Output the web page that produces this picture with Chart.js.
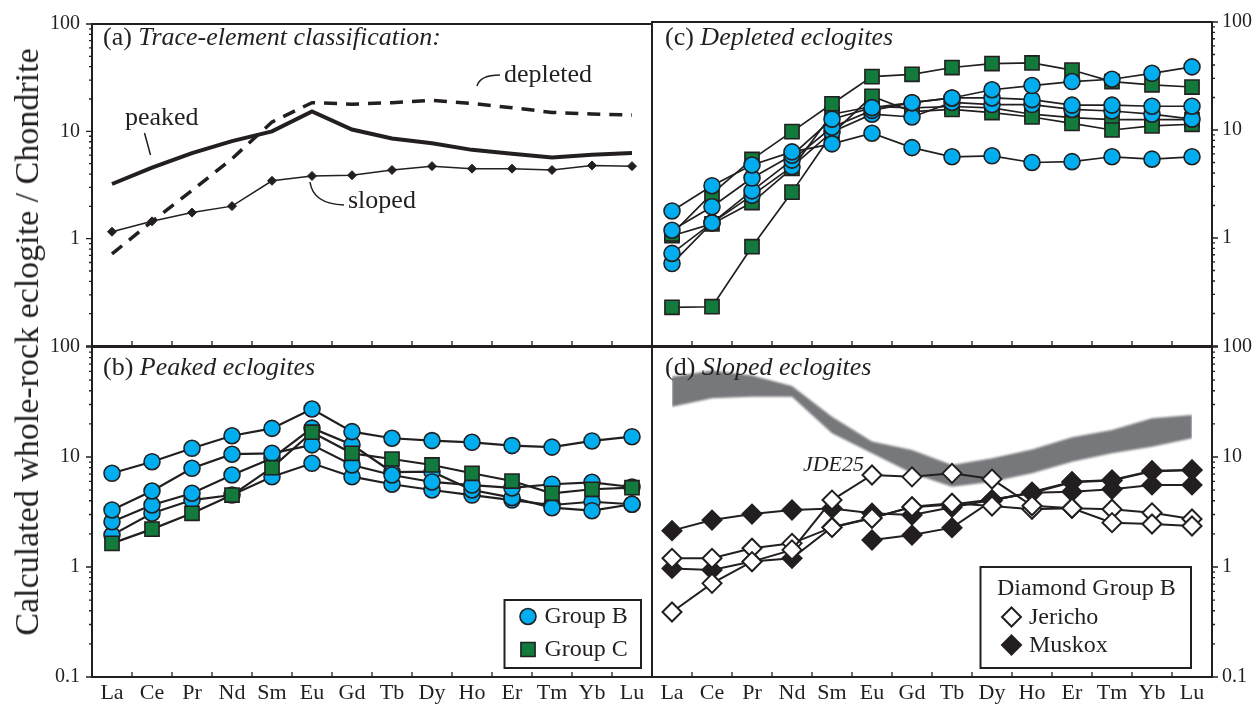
<!DOCTYPE html>
<html>
<head>
<meta charset="utf-8">
<script src="https://cdn.jsdelivr.net/npm/chart.js@4.4.1/dist/chart.umd.min.js"></script>
<style>
  html, body { margin: 0; padding: 0; background: #fff; }
  #wrap { position: relative; width: 1256px; height: 708px; overflow: hidden; background: #fff; }
  #wrap canvas { position: absolute; left: 0; top: 0; }
  #ytitle {
    position: absolute; left: 27px; top: 342px;
    transform: translate(-50%, -50%) rotate(-90deg);
    white-space: nowrap; color: #231f20;
    font: 34px 'Liberation Serif', 'Times New Roman', serif;
  }
</style>
</head>
<body>
<div id="wrap">
  <canvas id="panelA" width="1256" height="708"></canvas>
  <canvas id="panelB" width="1256" height="708"></canvas>
  <canvas id="panelC" width="1256" height="708"></canvas>
  <canvas id="panelD" width="1256" height="708"></canvas>
  <div id="ytitle">Calculated whole-rock eclogite / Chondrite</div>
</div>
<script>
// REE on the x axis, chondrite-normalised values on log y axes
const elements = ['La', 'Ce', 'Pr', 'Nd', 'Sm', 'Eu', 'Gd', 'Tb', 'Dy', 'Ho', 'Er', 'Tm', 'Yb', 'Lu'];
const decadeTicks = [0.1, 1, 10, 100];

// (a) classification patterns
const peakedPattern   = [3.23, 4.58, 6.27, 8.11, 10.0, 15.3, 10.4, 8.59, 7.73, 6.72, 6.18, 5.72, 6.05, 6.27];
const depletedPattern = [0.72, 1.45, 2.81, 5.56, 12.2, 18.5, 17.9, 18.5, 19.4, 18.2, 16.6, 15.0, 14.5, 14.2];
const slopedPattern   = [1.16, 1.45, 1.75, 2.01, 3.46, 3.84, 3.90, 4.36, 4.74, 4.49, 4.49, 4.36, 4.81, 4.74];

// (b) peaked eclogites
const peakedB1 = [7.11, 9.06, 12.0, 15.6, 18.2, 27.3, 17.0, 14.8, 14.1, 13.6, 12.7, 12.3, 14.0, 15.3];
const peakedB2 = [3.30, 4.91, 7.89, 10.6, 10.8, 12.9, 8.46, 6.86, 5.93, 5.56, 5.23, 5.65, 5.89, 5.34];
const peakedB3 = [2.58, 3.66, 4.68, 6.86, 9.73, 18.3, 12.9, 7.30, 7.35, 5.01, 4.27, 3.46, 3.25, 3.72];
const peakedB4 = [1.95, 3.08, 4.06, 4.51, 6.62, 8.76, 6.62, 5.65, 5.01, 4.51, 4.06, 3.66, 3.92, 3.72];
const peakedC1 = [1.64, 2.21, 3.08, 4.51, 8.00, 16.8, 10.8, 9.59, 8.46, 7.11, 6.05, 4.68, 5.09, 5.26];

// (c) depleted eclogites
const depletedB1 = [1.78, 3.05, 4.74, 6.27, 7.44, 9.33, 6.87, 5.65, 5.77, 5.00, 5.09, 5.65, 5.37, 5.65];
const depletedB2 = [1.18, 1.95, 3.59, 5.84, 12.6, 16.1, 17.9, 19.8, 23.6, 25.8, 28.1, 29.5, 33.5, 38.4];
const depletedB3 = [0.72, 1.38, 2.73, 5.26, 10.6, 15.2, 17.9, 19.8, 19.8, 19.1, 17.0, 17.0, 16.6, 16.6];
const depletedB4 = [0.58, 1.38, 2.48, 4.58, 9.60, 14.0, 13.2, 18.0, 17.2, 17.2, 15.5, 15.0, 14.0, 12.6];
const depletedC1 = [1.09, 2.58, 5.34, 9.66, 17.5, 31.2, 32.8, 37.9, 41.2, 41.8, 35.9, 28.1, 26.2, 25.0];
const depletedC2 = [0.228, 0.231, 0.83, 2.66, 9.20, 20.5, 14.8, 15.5, 14.5, 13.2, 11.5, 10.0, 10.9, 11.3];
const depletedC3 = [1.05, 1.35, 2.13, 4.42, 14.0, 16.5, 16.0, 16.5, 16.0, 14.0, 13.0, 12.5, 12.5, 12.5];

// (d) sloped eclogites, diamond-bearing Group B
const jericho1 = [0.39, 0.71, 1.12, 1.43, 4.06, 6.86, 6.60, 7.10, 6.30, 3.60, 3.42, 2.53, 2.46, 2.36];
const jericho2 = [1.20, 1.20, 1.48, 1.64, 2.29, 2.77, 3.53, 3.80, 3.58, 3.35, 3.42, 3.35, 3.11, 2.73];
const muskox1  = [2.14, 2.67, 3.03, 3.30, 3.41, 3.08, 2.97, 3.49, 4.06, 4.73, 4.84, 5.09, 5.57, 5.57];
const muskox2  = [null, null, null, null, null, 1.76, 1.95, 2.28, 4.00, 4.80, 5.96, 6.18, 7.51, 7.62];
const muskox3  = [0.97, 0.94, 1.12, 1.20, 2.30, 2.80, 3.50, 3.70, 4.10, 4.70, 5.90, 6.10, 7.40, 7.60];
const fieldHigh = [53.7, 61.0, 55.0, 44.2, 23.2, 13.8, 11.6, 8.46, 9.73, 11.7, 15.1, 17.6, 22.5, 24.1];
const fieldLow  = [28.7, 34.2, 35.3, 35.3, 16.4, 10.8, 7.11, 5.37, 5.96, 7.11, 9.06, 10.8, 12.4, 14.8];

const INK = '#231f20';
const BLUE = '#00aeef';
const GREEN = '#127a3c';
const GREY = '#77787b';
const SERIF = "'Liberation Serif', 'Times New Roman', serif";

Chart.defaults.font.family = SERIF;
Chart.defaults.color = INK;

// plot boxes in page pixels
const LEFT = { x0: 92, x1: 652 };
const RIGHT = { x0: 652, x1: 1212 };
const TOP = { y0: 15, y1: 346 };
const BOTTOM = { y0: 347, y1: 677 };

function isDecade(v) {
  const l = Math.log10(v);
  return Math.abs(l - Math.round(l)) < 1e-6;
}

function blueSeries(data, lw) {
  return { data, borderColor: INK, borderWidth: lw, pointStyle: 'circle', pointRadius: 8,
    pointBackgroundColor: BLUE, pointBorderColor: INK, pointBorderWidth: 1.6 };
}
function greenSeries(data, lw) {
  return { data, borderColor: INK, borderWidth: lw, pointStyle: 'rect', pointRadius: 10,
    pointBackgroundColor: GREEN, pointBorderColor: INK, pointBorderWidth: 1.6 };
}
function diamondSeries(data, open) {
  return { data, borderColor: INK, borderWidth: 2, pointStyle: 'rectRot', pointRadius: 9.5,
    pointBackgroundColor: open ? '#fff' : INK, pointBorderColor: INK, pointBorderWidth: 2 };
}

// small marker shapes for the hand-placed legends
function mark(ctx, style, x, y, r, fill) {
  ctx.beginPath();
  if (style === 'circle') ctx.arc(x, y, r, 0, Math.PI * 2);
  else if (style === 'rect') { const s = r * Math.SQRT1_2; ctx.rect(x - s, y - s, 2 * s, 2 * s); }
  else { ctx.moveTo(x, y - r); ctx.lineTo(x + r, y); ctx.lineTo(x, y + r); ctx.lineTo(x - r, y); ctx.closePath(); }
  ctx.fillStyle = fill;
  ctx.fill();
  ctx.lineWidth = style === 'rectRot' ? 2 : 1.6;
  ctx.strokeStyle = INK;
  ctx.stroke();
}

function drawTitle(ctx, x, y, tag, text) {
  ctx.fillStyle = INK;
  ctx.textAlign = 'left';
  ctx.textBaseline = 'alphabetic';
  ctx.font = `26px ${SERIF}`;
  ctx.fillText(tag, x, y);
  const w = ctx.measureText(tag).width;
  ctx.font = `italic 26px ${SERIF}`;
  ctx.fillText(text, x + w, y);
}

// box, inward x ticks between elements, outward log ticks
function framePlugin(onLeft) {
  return {
    id: 'frame',
    afterDatasetsDraw(chart) {
      const { ctx, chartArea: a, scales: { x, y } } = chart;
      ctx.save();
      ctx.filter = 'none';
      ctx.strokeStyle = INK;
      ctx.lineWidth = 2;
      ctx.strokeRect(a.left, a.top, a.right - a.left, a.bottom - a.top);
      ctx.lineWidth = 1.3;
      ctx.beginPath();
      for (let i = 1; i < elements.length; i++) {
        const px = (x.getPixelForValue(i - 1) + x.getPixelForValue(i)) / 2;
        ctx.moveTo(px, a.bottom);
        ctx.lineTo(px, a.bottom - 5);
      }
      const edge = onLeft ? a.left : a.right;
      const dir = onLeft ? -1 : 1;
      [0.1, 1, 10].forEach(d => {
        for (let m = 1; m <= 10; m++) {
          const py = y.getPixelForValue(m * d);
          const len = (m === 1 || m === 10) ? 6 : 3;
          ctx.moveTo(edge, py);
          ctx.lineTo(edge + dir * len, py);
        }
      });
      ctx.stroke();
      ctx.restore();
    }
  };
}

function makePanel(id, col, row, datasets, extraPlugins) {
  const onLeft = col === LEFT;
  const isBottom = row === BOTTOM;
  return new Chart(document.getElementById(id), {
    type: 'line',
    data: { labels: elements, datasets },
    options: {
      responsive: false,
      animation: false,
      devicePixelRatio: 1,
      layout: {
        padding: {
          left: onLeft ? 0 : col.x0,
          right: onLeft ? 1256 - col.x1 : 0,
          top: row.y0,
          bottom: isBottom ? 0 : 708 - row.y1
        }
      },
      plugins: { legend: { display: false }, tooltip: { enabled: false } },
      elements: { line: { tension: 0, fill: false } },
      scales: {
        x: {
          type: 'category', offset: true, display: isBottom,
          grid: { display: false, drawTicks: false }, border: { display: false },
          ticks: { padding: 3, font: { size: 22 }, color: INK, maxRotation: 0, autoSkip: false },
          afterFit: s => { if (isBottom) s.height = 708 - row.y1; }
        },
        y: {
          type: 'logarithmic', position: onLeft ? 'left' : 'right', min: 0.1, max: 100,
          grid: { display: false, drawTicks: false }, border: { display: false },
          ticks: {
            padding: onLeft ? 12 : 10, font: { size: 20 }, color: INK, autoSkip: false,
            callback: v => (isDecade(v) && (isBottom || v > 0.5)) ? String(v) : ''
          },
          afterFit: s => { s.width = onLeft ? col.x0 : 1256 - col.x1; }
        }
      }
    },
    plugins: [framePlugin(onLeft)].concat(extraPlugins || [])
  });
}

// (a)
makePanel('panelA', LEFT, TOP, [
  { data: slopedPattern, borderColor: INK, borderWidth: 1.5, pointStyle: 'rectRot', pointRadius: 4.5,
    pointBackgroundColor: INK, pointBorderColor: INK, pointBorderWidth: 1 },
  { data: peakedPattern, borderColor: INK, borderWidth: 4, pointRadius: 0 },
  { data: depletedPattern, borderColor: INK, borderWidth: 3.5, borderDash: [13, 9], pointRadius: 0 }
], [{
  id: 'notesA',
  afterDraw(chart) {
    const ctx = chart.ctx;
    ctx.save();
    drawTitle(ctx, 103, 45, '(a) ', 'Trace-element classification:');
    ctx.font = `26px ${SERIF}`;
    ctx.fillText('peaked', 125, 125);
    ctx.fillText('depleted', 504, 82);
    ctx.fillText('sloped', 348, 208);
    ctx.strokeStyle = INK;
    ctx.lineWidth = 1.5;
    ctx.beginPath();
    ctx.moveTo(144.5, 133); ctx.lineTo(150.5, 155);
    ctx.moveTo(477, 86); ctx.quadraticCurveTo(480, 75, 500, 75);
    ctx.moveTo(310, 182); ctx.quadraticCurveTo(313, 204, 344, 205);
    ctx.stroke();
    ctx.restore();
  }
}]);

// (b)
makePanel('panelB', LEFT, BOTTOM, [
  greenSeries(peakedC1, 2.2),
  blueSeries(peakedB1, 2.2),
  blueSeries(peakedB2, 2.2),
  blueSeries(peakedB3, 2.2),
  blueSeries(peakedB4, 2.2)
], [{
  id: 'notesB',
  afterDraw(chart) {
    const ctx = chart.ctx;
    ctx.save();
    drawTitle(ctx, 103, 375, '(b) ', 'Peaked eclogites');
    ctx.fillStyle = '#fff';
    ctx.fillRect(504.5, 600, 136.5, 68);
    ctx.strokeStyle = INK;
    ctx.lineWidth = 2;
    ctx.strokeRect(504.5, 600, 136.5, 68);
    mark(ctx, 'circle', 528, 616.5, 8, BLUE);
    mark(ctx, 'rect', 528, 649.5, 10, GREEN);
    ctx.fillStyle = INK;
    ctx.font = `24px ${SERIF}`;
    ctx.textBaseline = 'middle';
    ctx.fillText('Group B', 544.5, 617);
    ctx.fillText('Group C', 544.5, 650);
    ctx.restore();
  }
}]);

// (c)
makePanel('panelC', RIGHT, TOP, [
  blueSeries(depletedB1, 1.7),
  blueSeries(depletedB2, 1.7),
  blueSeries(depletedB3, 1.7),
  blueSeries(depletedB4, 1.7),
  greenSeries(depletedC1, 1.7),
  greenSeries(depletedC2, 1.7),
  greenSeries(depletedC3, 1.7)
], [{
  id: 'notesC',
  afterDraw(chart) {
    const ctx = chart.ctx;
    ctx.save();
    drawTitle(ctx, 665, 45, '(c) ', 'Depleted eclogites');
    ctx.restore();
  }
}]);

// (d) - the grey field is the last pair of datasets so it sits underneath
makePanel('panelD', RIGHT, BOTTOM, [
  diamondSeries(jericho1, true),
  diamondSeries(jericho2, true),
  diamondSeries(muskox1, false),
  diamondSeries(muskox2, false),
  diamondSeries(muskox3, false),
  { data: fieldHigh, borderWidth: 0, pointRadius: 0, fill: '+1', backgroundColor: GREY },
  { data: fieldLow, borderWidth: 0, pointRadius: 0 }
], [{
  id: 'softField',
  afterDatasetDraw(chart, args) {
    if (args.index === 6) chart.ctx.filter = 'blur(1.3px)';
  },
  beforeDatasetDraw(chart, args) {
    if (args.index === 4) chart.ctx.filter = 'none';
  }
}, {
  id: 'notesD',
  afterDraw(chart) {
    const ctx = chart.ctx;
    ctx.save();
    ctx.filter = 'none';
    drawTitle(ctx, 665, 375, '(d) ', 'Sloped eclogites');
    ctx.font = `italic 22px ${SERIF}`;
    ctx.textAlign = 'right';
    ctx.fillText('JDE25', 864, 471);
    ctx.fillStyle = '#fff';
    ctx.fillRect(980.5, 567, 210.5, 101);
    ctx.strokeStyle = INK;
    ctx.lineWidth = 2;
    ctx.strokeRect(980.5, 567, 210.5, 101);
    mark(ctx, 'rectRot', 1011.5, 617, 9.5, '#fff');
    mark(ctx, 'rectRot', 1011.5, 645, 9.5, INK);
    ctx.fillStyle = INK;
    ctx.font = `24px ${SERIF}`;
    ctx.textAlign = 'left';
    ctx.textBaseline = 'middle';
    ctx.fillText('Diamond Group B', 997, 589);
    ctx.fillText('Jericho', 1029, 618);
    ctx.fillText('Muskox', 1029, 646);
    ctx.restore();
  }
}]);
</script>
</body>
</html>
